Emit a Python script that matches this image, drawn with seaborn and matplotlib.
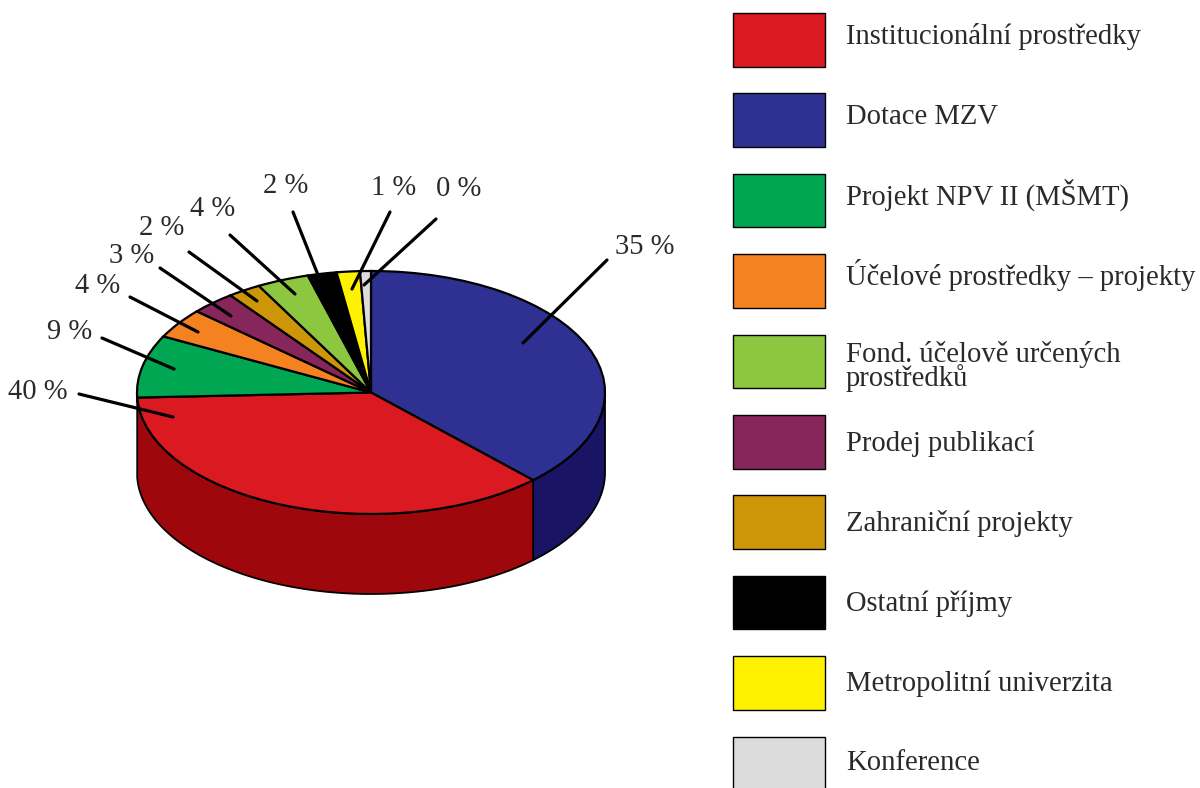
import numpy as np
import matplotlib
matplotlib.use("Agg")
import matplotlib.pyplot as plt
from matplotlib.patches import Rectangle
import seaborn as sns

# Data (legend order)
categories = ["Institucionální prostředky", "Dotace MZV", "Projekt NPV II (MŠMT)",
              "Účelové prostředky – projekty", "Fond. účelově určených\nprostředků",
              "Prodej publikací", "Zahraniční projekty", "Ostatní příjmy",
              "Metropolitní univerzita", "Konference"]
drawn_share = [36.5, 37.8, 8.3, 4.0, 3.6, 3.1, 2.3, 2.0, 1.6, 0.75]
printed_pct = [40, 35, 9, 4, 4, 3, 2, 2, 1, 0]
# clockwise drawing order, starting from 12 o'clock
slice_order = [1, 0, 2, 3, 5, 6, 4, 7, 8, 9]
colors = ["#da1a20", "#2e3192", "#00a651", "#f58220", "#8dc63f",
          "#86265a", "#cc9608", "#000000", "#fff200", "#dcdcdc"]
wall_colors = {0: "#9e070c", 1: "#1a1464"}

sns.set_theme(style="white")
plt.rcParams["font.family"] = ["Liberation Serif", "DejaVu Sans"]
palette = sns.color_palette(colors)

W, H = 1200, 788
CX, CY, RX, RY, DEPTH = 371, 392.5, 234, 121.5, 80
TEXT = "#2b2a29"
FS = 20.6

fig = plt.figure(figsize=(W / 100, H / 100), dpi=100, facecolor="white")
ax = fig.add_axes([0, 0, 1, 1])

shares = [drawn_share[i] for i in slice_order]
ax.pie(shares, colors=[palette[i] for i in slice_order], startangle=90, counterclock=False,
       wedgeprops=dict(edgecolor="black", linewidth=1.6, zorder=3))
ax.set_aspect("auto")
ax.set_xlim(-CX / RX, (W - CX) / RX)
ax.set_ylim((CY - H) / RY, CY / RY)
ax.axis("off")

# side wall of the disc
depth = DEPTH / RY
edges = 90 - np.cumsum([0] + shares) / sum(shares) * 360
for k, idx in enumerate(slice_order):
    if idx not in wall_colors:
        continue
    a0, a1 = edges[k + 1] % 360, edges[k] % 360
    if a1 <= a0:
        a1 += 360
    lo, hi = max(a0, 180), min(a1, 360)
    if hi <= lo:
        continue
    t = np.radians(np.linspace(lo, hi, 120))
    xs = np.concatenate([np.cos(t), np.cos(t[::-1])])
    ys = np.concatenate([np.sin(t), np.sin(t[::-1]) - depth])
    ax.fill(xs, ys, facecolor=wall_colors[idx], edgecolor="black", linewidth=1.3, zorder=2)

# overlay in pixel coordinates for legend, labels and leader lines
ov = fig.add_axes([0, 0, 1, 1], facecolor="none")
ov.set_xlim(0, W)
ov.set_ylim(H, 0)
ov.axis("off")

legend_baselines = [44.3, 124.3, 204.3, 284.5, 385.7, 450.7, 530.7, 611, 690.7, 770]
for i, (name, col, base) in enumerate(zip(categories, palette, legend_baselines)):
    y = 13 + i * 80.4
    ov.add_patch(Rectangle((733, y), 91.5, 53.5, facecolor=col, edgecolor="black",
                           linewidth=1.0, clip_on=False))
    ov.text(846, base, name, fontsize=FS, color=TEXT,
            va="baseline", ha="left", linespacing=0.8)

label_pos = [(38, 392), (645, 247), (70, 332), (98, 286), (213, 209),
             (132, 256), (162, 228), (286, 186), (394, 188), (459, 189)]
line_out = [(79, 394), (607, 260), (102, 338), (130, 297), (230, 235),
            (160, 268), (189, 252), (293, 212), (390, 212), (436, 219)]
line_in = [(173, 417), (523, 343), (174, 369), (198, 332), (295, 294),
           (231, 316), (257, 301), (318, 275), (352, 289), (364, 285)]
for pct, lp, lo, li in zip(printed_pct, label_pos, line_out, line_in):
    ov.annotate("", xy=li, xytext=lo, arrowprops=dict(arrowstyle="-", color="black", lw=2.3,
                                                     shrinkA=0, shrinkB=0))
    ov.text(lp[0], lp[1], f"{pct} %", fontsize=FS, color=TEXT, ha="center", va="center")

fig.savefig("out.png", dpi=100, facecolor="white")
